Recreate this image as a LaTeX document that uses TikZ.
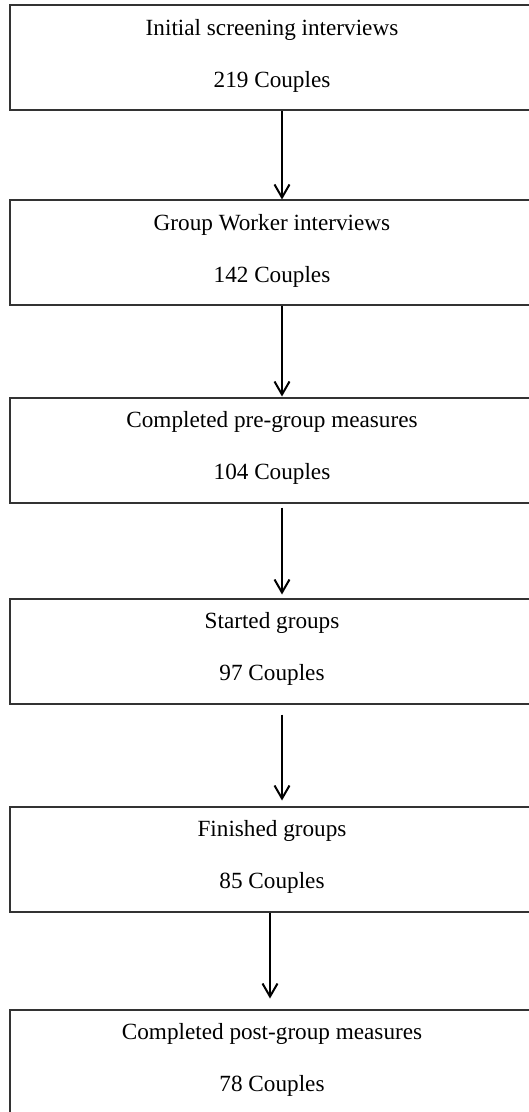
\documentclass[tikz,border=0pt]{standalone}
\usepackage{fontspec}
\setmainfont{Liberation Serif}
\usetikzlibrary{arrows.meta}
\begin{document}
\begin{tikzpicture}[x=0.5pt,y=-0.5pt,
	stage/.style={draw=black!80,line width=1pt,minimum width=262pt,minimum height=52.5pt,
		inner sep=0pt,text depth=4.5pt,align=center,font=\fontsize{11.6}{26}\selectfont},
	flow/.style={-{Straight Barb[length=6.5pt,width=7.5pt]},line width=1pt}]
			\useasboundingbox (0,0) rectangle (529,1112);
			\node[stage] (s1) at (272,58)   {Initial screening interviews\\219 Couples};
			\node[stage] (s2) at (272,253)  {Group Worker interviews\\142 Couples};
			\node[stage] (s3) at (272,450)  {Completed pre-group measures\\104 Couples};
			\node[stage] (s4) at (272,651)  {Started groups\\97 Couples};
			\node[stage] (s5) at (272,859)  {Finished groups\\85 Couples};
			\node[stage] (s6) at (272,1062) {Completed post-group measures\\78 Couples};
			\draw[flow] ([xshift=5pt]s1.south) -- ([xshift=5pt]s2.north);
			\draw[flow] ([xshift=5pt]s2.south) -- ([xshift=5pt]s3.north);
			\draw[flow,shorten <=2pt,shorten >=1.5pt] ([xshift=5pt]s3.south) -- ([xshift=5pt]s4.north);
			\draw[flow,shorten <=5pt,shorten >=2.5pt] ([xshift=5pt]s4.south) -- ([xshift=5pt]s5.north);
			\draw[flow,shorten >=5pt] ([xshift=-1pt]s5.south) -- ([xshift=-1pt]s6.north);
\end{tikzpicture}
\end{document}
